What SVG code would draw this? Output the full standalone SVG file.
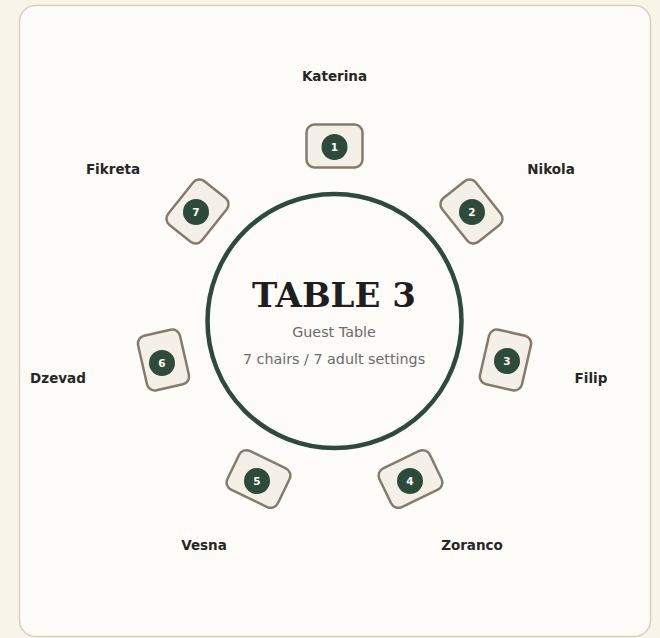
<svg xmlns="http://www.w3.org/2000/svg" width="660" height="638" viewBox="0 0 660 638">
<style>
.chair{fill:#f4f0e8;stroke:#857b6c;stroke-width:2.5}
.num{fill:#2d4a3a}
.numt{fill:#ffffff;font-family:"DejaVu Sans",sans-serif;font-size:10.5px;font-weight:bold;text-anchor:middle}
.name{fill:#262626;font-family:"DejaVu Sans",sans-serif;font-size:13.5px;font-weight:bold;text-anchor:middle}
.sub{fill:#6b6b6b;font-family:"DejaVu Sans",sans-serif;font-size:14.3px;text-anchor:middle}
</style>
<defs>
<g id="chairShape"><rect class="chair" x="-28" y="-21.5" width="56" height="43" rx="8"/></g>
</defs>
<rect width="660" height="638" fill="#f8f4ea"/>
<rect x="19.5" y="5.5" width="631" height="631" rx="16" fill="#fdfcf8" stroke="#d9cfbc" stroke-width="1.5"/>
<g id="table">
<circle cx="334.5" cy="321" r="127" fill="#fdfcf8" stroke="#2d4a3a" stroke-width="4.5"/>
<text x="334" y="307" text-anchor="middle" font-family="'DejaVu Serif',serif" font-weight="bold" font-size="34" fill="#1e1e1e">TABLE 3</text>
<text class="sub" x="334" y="337">Guest Table</text>
<text class="sub" x="334" y="364">7 chairs / 7 adult settings</text>
</g>
<g id="chair1"><use href="#chairShape" transform="translate(334.5,146) rotate(0)"/><circle class="num" cx="334.5" cy="147" r="13"/><text class="numt" x="334.5" y="151">1</text><text class="name" x="334.5" y="81">Katerina</text></g>
<g id="chair2"><use href="#chairShape" transform="translate(471.5,211.5) rotate(51.43)"/><circle class="num" cx="472" cy="212" r="13"/><text class="numt" x="472" y="216">2</text><text class="name" x="551" y="174">Nikola</text></g>
<g id="chair3"><use href="#chairShape" transform="translate(505.5,360) rotate(102.86)"/><circle class="num" cx="507" cy="361" r="13"/><text class="numt" x="507" y="365">3</text><text class="name" x="591" y="383">Filip</text></g>
<g id="chair4"><use href="#chairShape" transform="translate(410.5,479) rotate(154.29)"/><circle class="num" cx="410" cy="481" r="13"/><text class="numt" x="410" y="485">4</text><text class="name" x="472" y="550">Zoranco</text></g>
<g id="chair5"><use href="#chairShape" transform="translate(258.5,479) rotate(205.71)"/><circle class="num" cx="257" cy="481" r="13"/><text class="numt" x="257" y="485">5</text><text class="name" x="204" y="550">Vesna</text></g>
<g id="chair6"><use href="#chairShape" transform="translate(163.5,360) rotate(257.14)"/><circle class="num" cx="162" cy="363" r="13"/><text class="numt" x="162" y="367">6</text><text class="name" x="58" y="383">Dzevad</text></g>
<g id="chair7"><use href="#chairShape" transform="translate(197.5,211.5) rotate(308.57)"/><circle class="num" cx="196" cy="212" r="13"/><text class="numt" x="196" y="216">7</text><text class="name" x="113" y="174">Fikreta</text></g>
</svg>
